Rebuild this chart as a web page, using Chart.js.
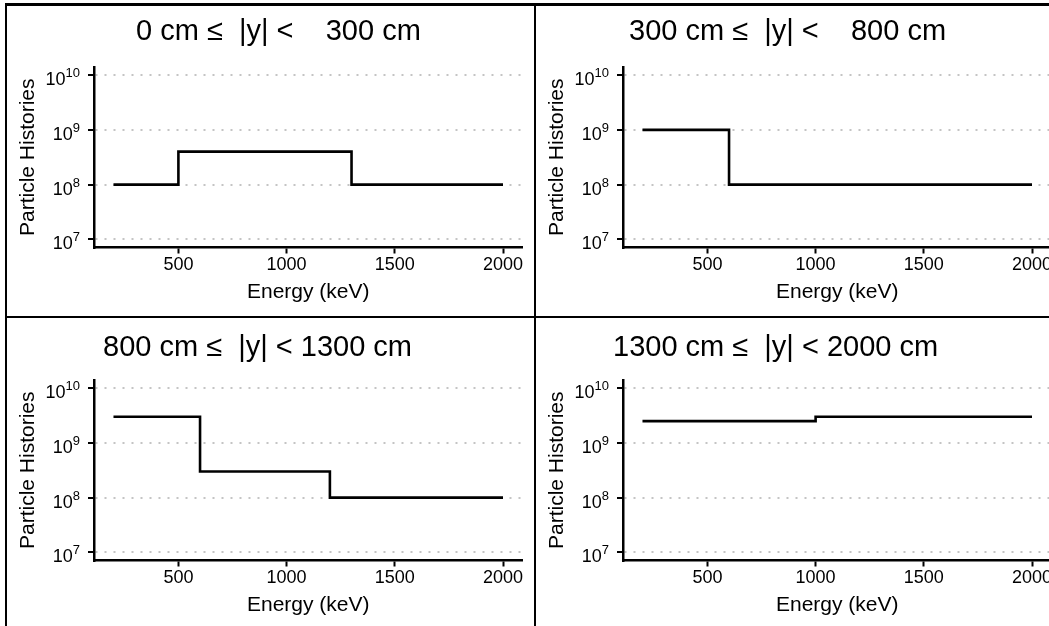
<!DOCTYPE html>
<html lang="en">
<head>
  <meta charset="UTF-8" />
  <title>Particle Histories by |y|</title>
  <script src="https://cdn.jsdelivr.net/npm/chart.js"></script>
  <style>
    html, body { margin: 0; padding: 0; background: #fff; overflow: hidden; width: 1049px; height: 626px; }
    .panel { position: absolute; width: 529px; height: 313px; }
    .rule { position: absolute; background: #000; }
  </style>
</head>
<body>
  <div class="panel" style="left:6px;top:4px"><canvas id="p0" width="529" height="313"></canvas></div>
  <div class="panel" style="left:535px;top:4px"><canvas id="p1" width="529" height="313"></canvas></div>
  <div class="panel" style="left:6px;top:317px"><canvas id="p2" width="529" height="313"></canvas></div>
  <div class="panel" style="left:535px;top:317px"><canvas id="p3" width="529" height="313"></canvas></div>

  <!-- panel borders -->
  <div class="rule" style="left:5px;top:3px;width:1100px;height:3px"></div>
  <div class="rule" style="left:5px;top:3px;width:2px;height:700px"></div>
  <div class="rule" style="left:534px;top:3px;width:2px;height:700px"></div>
  <div class="rule" style="left:5px;top:316px;width:1100px;height:2px"></div>

  <script>
    const ENERGY_TICKS = [500, 1000, 1500, 2000];
    const HISTORY_TICKS = [1e7, 1e8, 1e9, 1e10];
    const PANEL_TITLES = [
      '0 cm \u2264  |y| <    300 cm',
      '300 cm \u2264  |y| <    800 cm',
      '800 cm \u2264  |y| < 1300 cm',
      '1300 cm \u2264  |y| < 2000 cm'
    ];

    // energy bin edges (keV) and histories per bin
    const EDGES_0_300 = [200, 500, 1300, 2000];
    const HIST_0_300 = [1e8, 4e8, 1e8];
    const EDGES_300_800 = [200, 600, 2000];
    const HIST_300_800 = [1e9, 1e8];
    const EDGES_800_1300 = [200, 600, 1200, 2000];
    const HIST_800_1300 = [3e9, 3e8, 1e8];
    const EDGES_1300_2000 = [200, 1000, 2000];
    const HIST_1300_2000 = [2.5e9, 3e9];

    const FONT = '"Liberation Sans", Arial, Helvetica, sans-serif';
    Chart.defaults.font.family = FONT;
    Chart.defaults.color = '#000';

    // y tick labels as 10 with a raised exponent
    const powerLabels = {
      id: 'powerLabels',
      afterDraw(chart) {
        const ctx = chart.ctx, y = chart.scales.y;
        const right = chart.chartArea.left - 14;
        ctx.save();
        ctx.fillStyle = '#000';
        ctx.textBaseline = 'alphabetic';
        HISTORY_TICKS.forEach(v => {
          const py = y.getPixelForValue(v);
          const exp = String(Math.round(Math.log10(v)));
          ctx.font = '13px ' + FONT;
          const ew = ctx.measureText(exp).width;
          ctx.textAlign = 'left';
          ctx.fillText(exp, right - ew, py + 2);
          ctx.font = '18px ' + FONT;
          ctx.textAlign = 'right';
          ctx.fillText('10', right - ew, py + 10);
        });
        ctx.restore();
      }
    };

    const panelTitle = {
      id: 'panelTitle',
      afterDraw(chart, args, opts) {
        const ctx = chart.ctx;
        ctx.save();
        ctx.font = opts.size + 'px ' + FONT;
        ctx.fillStyle = '#000';
        ctx.textAlign = 'left';
        ctx.textBaseline = 'middle';
        ctx.fillText(opts.text, opts.x, opts.y);
        ctx.restore();
      }
    };

    function stepPoints(edges, hist) {
      return edges.map((e, i) => ({ x: e, y: hist[Math.min(i, hist.length - 1)] }));
    }

    function makePanel(id, title, titleX, titleY, edges, hist) {
      new Chart(document.getElementById(id), {
        type: 'line',
        data: {
          datasets: [{
            data: stepPoints(edges, hist),
            borderColor: '#000',
            borderWidth: 2.6,
            pointRadius: 0,
            stepped: 'before',
            fill: false
          }]
        },
        options: {
          responsive: false,
          animation: false,
          layout: { padding: { top: 63, right: 12.5, bottom: 0, left: 0 } },
          plugins: {
            legend: { display: false },
            tooltip: { enabled: false },
            panelTitle: { text: title, x: titleX, y: titleY, size: 29 }
          },
          scales: {
            x: {
              type: 'linear',
              min: 110,
              max: 2090,
              afterBuildTicks: s => { s.ticks = ENERGY_TICKS.map(value => ({ value })); },
              afterFit: s => { s.height = 69.5; },
              ticks: { callback: v => String(v), font: { size: 18 }, color: '#000', padding: 1, maxRotation: 0, autoSkip: false },
              grid: { drawOnChartArea: false, drawTicks: true, tickLength: 6, tickColor: '#000', tickWidth: 2 },
              border: { color: '#000', width: 2.5 },
              title: { display: true, text: 'Energy (keV)', font: { size: 21 }, color: '#000', padding: { top: 0, bottom: 12 } }
            },
            y: {
              type: 'logarithmic',
              min: Math.pow(10, 6.85),
              max: Math.pow(10, 10.15),
              afterBuildTicks: s => { s.ticks = HISTORY_TICKS.map(value => ({ value })); },
              afterFit: s => { s.width = 88; },
              ticks: { callback: () => '' },
              grid: { color: '#c4c4c4', lineWidth: 2, drawTicks: true, tickLength: 6, tickColor: '#000', tickWidth: 2 },
              border: { color: '#000', width: 2.5, dash: [2, 7] },
              title: { display: true, text: 'Particle Histories', font: { size: 21 }, color: '#000', padding: { top: 10, bottom: 0 } }
            }
          }
        },
        plugins: [powerLabels, panelTitle]
      });
    }

    makePanel('p0', PANEL_TITLES[0], 130, 28, EDGES_0_300, HIST_0_300);
    makePanel('p1', PANEL_TITLES[1], 94, 28, EDGES_300_800, HIST_300_800);
    makePanel('p2', PANEL_TITLES[2], 97, 31, EDGES_800_1300, HIST_800_1300);
    makePanel('p3', PANEL_TITLES[3], 78, 31, EDGES_1300_2000, HIST_1300_2000);
  </script>
</body>
</html>
